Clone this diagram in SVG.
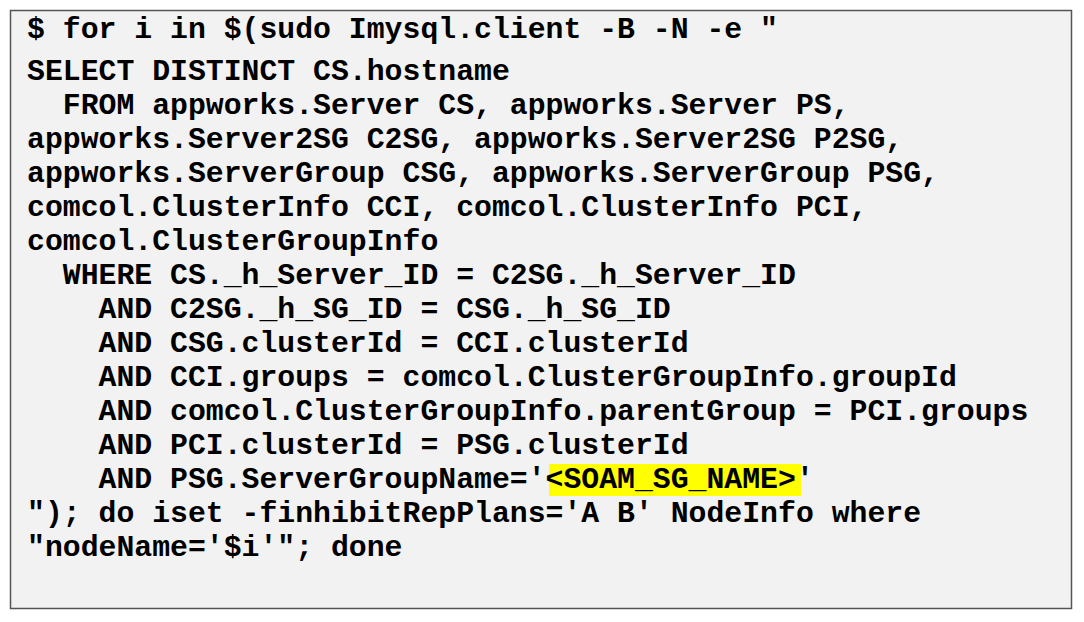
<svg xmlns="http://www.w3.org/2000/svg" width="1084" height="622" viewBox="0 0 1084 622">
<style>
text{font-family:"Liberation Mono","Courier New",monospace;font-weight:bold;font-size:29.8px;fill:#000;white-space:pre}
</style>
<rect x="0" y="0" width="1084" height="622" fill="#fff"/>
<g id="codebox">
<rect x="10.5" y="10.5" width="1061" height="598" fill="#f2f2f2" stroke="#555" stroke-width="1.5"/>
<rect x="549" y="464" width="252" height="32" fill="#ffff00"/>
<text x="27" y="38" xml:space="preserve">$ for i in $(sudo Imysql.client -B -N -e "</text>
<text x="27" y="80" xml:space="preserve">SELECT DISTINCT CS.hostname</text>
<text x="27" y="114" xml:space="preserve">  FROM appworks.Server CS, appworks.Server PS,</text>
<text x="27" y="148" xml:space="preserve">appworks.Server2SG C2SG, appworks.Server2SG P2SG,</text>
<text x="27" y="182" xml:space="preserve">appworks.ServerGroup CSG, appworks.ServerGroup PSG,</text>
<text x="27" y="216" xml:space="preserve">comcol.ClusterInfo CCI, comcol.ClusterInfo PCI,</text>
<text x="27" y="250" xml:space="preserve">comcol.ClusterGroupInfo</text>
<text x="27" y="284" xml:space="preserve">  WHERE CS._h_Server_ID = C2SG._h_Server_ID</text>
<text x="27" y="318" xml:space="preserve">    AND C2SG._h_SG_ID = CSG._h_SG_ID</text>
<text x="27" y="352" xml:space="preserve">    AND CSG.clusterId = CCI.clusterId</text>
<text x="27" y="386" xml:space="preserve">    AND CCI.groups = comcol.ClusterGroupInfo.groupId</text>
<text x="27" y="420" xml:space="preserve">    AND comcol.ClusterGroupInfo.parentGroup = PCI.groups</text>
<text x="27" y="454" xml:space="preserve">    AND PCI.clusterId = PSG.clusterId</text>
<text x="27" y="488" xml:space="preserve">    AND PSG.ServerGroupName='&lt;SOAM_SG_NAME&gt;'</text>
<text x="27" y="522" xml:space="preserve">"); do iset -finhibitRepPlans='A B' NodeInfo where</text>
<text x="27" y="556" xml:space="preserve">"nodeName='$i'"; done</text>
</g>
</svg>
